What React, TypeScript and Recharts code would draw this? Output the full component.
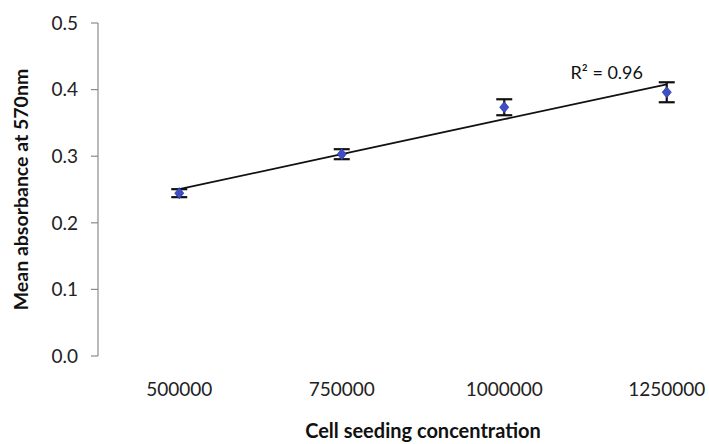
import React from 'react';
import { ComposedChart, Scatter, Line, XAxis, YAxis, ErrorBar, Label, LabelList } from 'recharts';

const categories = ['500000', '750000', '1000000', '1250000'];
const meanAbsorbance = [0.2445, 0.303, 0.3735, 0.396];
const errorValues = [0.006, 0.0075, 0.012, 0.015];
const yTicks = [0, 0.1, 0.2, 0.3, 0.4, 0.5];
const rSquaredText = 'R² = 0.96';
const xTitle = 'Cell seeding concentration';
const yTitle = 'Mean absorbance at 570nm';

// linear least-squares trendline (as Excel's trendline) over category positions 1..n
const positions = categories.map((_, i) => i + 1);
const n = positions.length;
const mx = positions.reduce((s, v) => s + v, 0) / n;
const my = meanAbsorbance.reduce((s, v) => s + v, 0) / n;
const slope =
  positions.reduce((s, x, i) => s + (x - mx) * (meanAbsorbance[i] - my), 0) /
  positions.reduce((s, x) => s + (x - mx) * (x - mx), 0);
const intercept = my - slope * mx;

const data = categories.map((c, i) => ({
  pos: positions[i],
  label: c,
  y: meanAbsorbance[i],
  err: errorValues[i],
  trend: intercept + slope * positions[i],
}));

const FONT = 'Lato, "Open Sans", sans-serif';
const AXIS_GREY = '#8a8a8a';

const Diamond = (props: any) => {
  const { cx, cy } = props;
  if (cx == null || cy == null) return null;
  const rx = 4.5;
  const ry = 5.5;
  return (
    <polygon
      points={`${cx},${cy - ry} ${cx + rx},${cy} ${cx},${cy + ry} ${cx - rx},${cy}`}
      fill="#3d4ec6"
      stroke="#2f3da8"
      strokeWidth={0.8}
    />
  );
};

const YTitle = (props: any) => {
  const vb = props.viewBox || {};
  const cx = vb.x + 20;
  const cy = vb.y + vb.height / 2;
  return (
    <text
      x={cx}
      y={cy}
      transform={`rotate(-90, ${cx}, ${cy})`}
      textAnchor="middle"
      dominantBaseline="central"
      fontFamily={FONT}
      fontWeight={700}
      fontSize={19.5}
      fill="#111"
    >
      {yTitle}
    </text>
  );
};

const RLabel = (props: any) => {
  const { x, y, index } = props;
  if (index !== n - 1) return null;
  return (
    <text
      x={x - 60}
      y={y - 12}
      textAnchor="middle"
      dominantBaseline="central"
      fontFamily={FONT}
      fontSize={18}
      fill="#111"
    >
      {rSquaredText}
    </text>
  );
};

export default function App() {
  return (
    <div
      style={{
        position: 'fixed',
        top: 0,
        left: 0,
        width: 709,
        height: 444,
        overflow: 'hidden',
        background: '#fff',
      }}
    >
      <ComposedChart
        width={770}
        height={444}
        data={data}
        margin={{ top: 23, right: 22, bottom: 0, left: 0 }}
      >
        <XAxis
          xAxisId="tk"
          dataKey="pos"
          type="number"
          domain={[0.5, 4.5]}
          ticks={[0.5, 1.5, 2.5, 3.5, 4.5]}
          tick={false}
          tickSize={6}
          height={0}
          axisLine={{ stroke: AXIS_GREY, strokeWidth: 1.2 }}
          tickLine={{ stroke: AXIS_GREY, strokeWidth: 1.2 }}
          allowDataOverflow
        />
        <XAxis
          xAxisId="lab"
          dataKey="pos"
          type="number"
          domain={[0.5, 4.5]}
          ticks={positions}
          tickFormatter={(v: number) => categories[v - 1] ?? ''}
          axisLine={false}
          tickLine={false}
          tickSize={0}
          tickMargin={27}
          height={88}
          tick={{ fontFamily: FONT, fontSize: 19, fill: '#222' }}
          allowDataOverflow
        >
          <Label
            value={xTitle}
            position="insideBottom"
            offset={6}
            style={{ fontFamily: FONT, fontWeight: 700, fontSize: 20, fill: '#111' }}
          />
        </XAxis>
        <YAxis
          type="number"
          domain={[0, 0.5]}
          ticks={yTicks}
          tickFormatter={(v: number) => v.toFixed(1)}
          width={98}
          tickSize={7}
          tickMargin={13}
          axisLine={{ stroke: AXIS_GREY, strokeWidth: 1.2 }}
          tickLine={{ stroke: AXIS_GREY, strokeWidth: 1.2 }}
          tick={{ fontFamily: FONT, fontSize: 19, fill: '#222' }}
        >
          <Label content={<YTitle />} />
        </YAxis>
        <Line
          xAxisId="tk"
          dataKey="trend"
          stroke="#111"
          strokeWidth={1.8}
          dot={false}
          activeDot={false}
          isAnimationActive={false}
        >
          <LabelList dataKey="trend" content={<RLabel />} />
        </Line>
        <Scatter
          xAxisId="lab"
          data={data}
          dataKey="y"
          shape={<Diamond />}
          isAnimationActive={false}
        >
          <ErrorBar dataKey="err" direction="y" width={8} stroke="#111" strokeWidth={2.2} />
        </Scatter>
      </ComposedChart>
    </div>
  );
}
